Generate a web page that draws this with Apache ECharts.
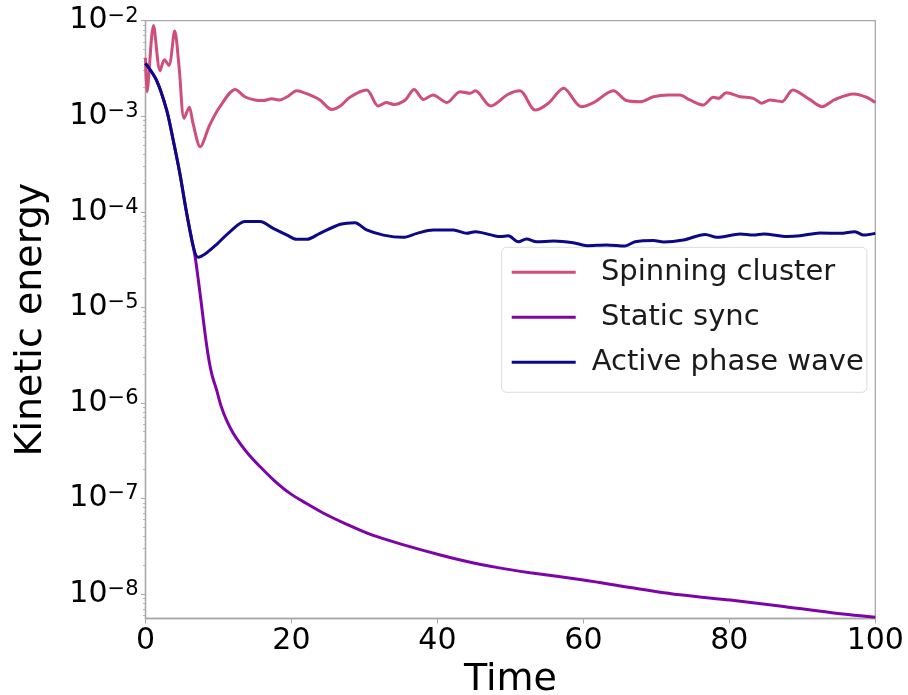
<!DOCTYPE html>
<html><head><meta charset="utf-8">
<script src="https://cdn.jsdelivr.net/npm/echarts@6/dist/echarts.min.js"></script>
<style>html,body{margin:0;padding:0;background:#fff}#c{width:908px;height:695px}</style>
</head><body><div id="c"></div>
<script>
// ---- data ----
const spinT = [0,0.2,1.1,2.0,2.6,3.2,4.0,4.6,5.3,6.0,6.5,7.5,8.8,10.2,12.3,13.6,15.0,16.1,17.3,18.4,19.6,20.7,22.5,23.9,25.5,26.7,28.0,30.3,31.9,33.0,34.0,35.6,36.8,38.1,39.4,41.3,43.1,44.5,45.2,47.3,49.7,51.3,53.4,55.2,57.3,59.7,61.4,64.1,65.9,67.8,69.6,71.6,73.2,74.6,76.4,77.8,78.5,79.6,81.5,83.3,84.4,85.6,87.2,88.7,91.0,92.7,94.5,97.0,98.8,100];
const spinE = [4.1e-3,1.8e-3,8.9e-3,3.0e-3,3.9e-3,3.4e-3,7.8e-3,3.3e-3,9.5e-4,1.24e-3,8.5e-4,4.8e-4,8.1e-4,1.26e-3,1.91e-3,1.60e-3,1.48e-3,1.46e-3,1.52e-3,1.48e-3,1.63e-3,1.85e-3,1.67e-3,1.48e-3,1.18e-3,1.28e-3,1.58e-3,1.88e-3,1.28e-3,1.39e-3,1.33e-3,1.48e-3,1.91e-3,1.50e-3,1.67e-3,1.39e-3,1.81e-3,1.74e-3,1.85e-3,1.28e-3,1.70e-3,1.85e-3,1.16e-3,1.37e-3,1.96e-3,1.26e-3,1.39e-3,1.85e-3,1.46e-3,1.42e-3,1.60e-3,1.67e-3,1.67e-3,1.48e-3,1.31e-3,1.58e-3,1.54e-3,1.76e-3,1.60e-3,1.54e-3,1.37e-3,1.48e-3,1.42e-3,1.88e-3,1.50e-3,1.26e-3,1.50e-3,1.71e-3,1.58e-3,1.39e-3];

const syncT = [0,1.5,2.9,3.8,4.7,5.65,6.55,6.8,7.25,7.7,8.15,8.6,9.1,9.75,10.35,11.1,12.0,12.95,14.2,15.7,17.6,19.8,22.0,24.4,27.5,31.2,35.5,40.4,43.6,48.1,52.7,60.0,66.4,73.2,80.1,86.9,93.8,100];
const syncE = [3.58e-3,2.39e-3,1.16e-3,5.6e-4,2.53e-4,9.6e-5,4.3e-5,3.4e-5,1.9e-5,1.02e-5,5.4e-6,3.1e-6,1.98e-6,1.36e-6,9.3e-7,6.6e-7,4.84e-7,3.78e-7,2.85e-7,2.15e-7,1.55e-7,1.13e-7,8.9e-8,7.0e-8,5.4e-8,4.1e-8,3.25e-8,2.56e-8,2.23e-8,1.9e-8,1.67e-8,1.4e-8,1.17e-8,9.8e-9,8.65e-9,7.5e-9,6.4e-9,5.7e-9];

const waveT = [0,1.5,2.9,3.8,4.7,5.65,6.55,7.2,8.4,9.8,11.6,13.6,15.7,17.5,19.4,20.7,22.1,23.9,26.7,28.7,30.3,32.6,35.3,37.2,39.4,42.2,44.0,45.2,48.6,49.7,51.1,52.2,53.6,55.9,58.6,60.5,63.2,65.7,67.1,69.6,71.0,73.7,76.7,78.3,81.5,83.3,84.7,87.9,89.7,92.4,95.2,97.2,98.4,100];
const waveE = [3.58e-3,2.39e-3,1.16e-3,5.6e-4,2.53e-4,9.6e-5,4.3e-5,3.34e-5,3.73e-5,4.6e-5,6.2e-5,7.9e-5,7.9e-5,6.7e-5,5.7e-5,5.15e-5,5.15e-5,5.95e-5,7.4e-5,7.7e-5,6.45e-5,5.7e-5,5.4e-5,5.95e-5,6.45e-5,6.45e-5,5.95e-5,6.2e-5,5.5e-5,5.6e-5,4.86e-5,5.2e-5,4.86e-5,4.94e-5,4.75e-5,4.42e-5,4.5e-5,4.39e-5,4.86e-5,5.0e-5,4.83e-5,5.07e-5,5.8e-5,5.4e-5,5.86e-5,5.7e-5,5.86e-5,5.5e-5,5.6e-5,6.0e-5,5.95e-5,6.2e-5,5.7e-5,5.95e-5];

const seriesNames = [' Spinning cluster', ' Static sync', 'Active phase wave'];
const seriesColors = ['#cf4e7c', '#7e03a8', '#0d0887'];
const xTicks = [0, 20, 40, 60, 80, 100];
const yTicks = [1e-8, 1e-7, 1e-6, 1e-5, 1e-4, 1e-3, 1e-2];
const yMin = 5.54e-9, yMax = 1e-2;

// minor log ticks (2..9 x 10^n)
const yMinor = [];
for (let n = -9; n <= -3; n++) for (let k = 2; k <= 9; k++) {
  const v = k * Math.pow(10, n);
  if (v >= yMin && v <= yMax) yMinor.push(v);
}

const FONT = 'DejaVu Sans';
const pair = (t, e) => t.map((x, i) => [x, e[i]]);
const mk = (i, t, e, extra) => Object.assign({
  name: seriesNames[i], type: 'line', yAxisIndex: 0, data: pair(t, e),
  showSymbol: false, symbol: 'none', smooth: 0.3,
  lineStyle: { width: 3, color: seriesColors[i] }, itemStyle: { color: seriesColors[i] },
  z: 3 + i
}, extra || {});

const chart = echarts.init(document.getElementById('c'), null, { renderer: 'canvas' });
chart.setOption({
  animation: false,
  backgroundColor: '#fff',
  grid: { left: 145.5, right: 32.7, top: 20.7, bottom: 76.5, containLabel: false, outerBoundsMode: 'none',
          show: true, borderColor: '#a8a8a8', borderWidth: 1.3, backgroundColor: 'transparent' },
  legend: {
    orient: 'vertical', left: 501.7, top: 247.3,
    padding: [9, 3, 14, 10], itemGap: 13, itemWidth: 64, itemHeight: 3, icon: 'rect',
    backgroundColor: 'rgba(255,255,255,0.85)', borderColor: '#dcdcdc', borderWidth: 1, borderRadius: 5,
    textStyle: { fontFamily: FONT, fontSize: 29, lineHeight: 32, color: '#1a1a1a', padding: [0, 0, 0, 11] },
    data: seriesNames
  },
  xAxis: {
    type: 'value', min: 0, max: 100, interval: 20,
    name: 'Time', nameLocation: 'middle', nameGap: 28,
    nameTextStyle: { fontFamily: FONT, fontSize: 38, color: '#000' },
    axisLine: { lineStyle: { color: '#a8a8a8', width: 1.3 } },
    axisTick: { show: true, length: 5, lineStyle: { color: '#a8a8a8', width: 1 } },
    axisLabel: { fontFamily: FONT, fontSize: 30, color: '#000', margin: 8, customValues: xTicks },
    splitLine: { show: false }
  },
  yAxis: [{
    type: 'log', logBase: 10, min: yMin, max: yMax,
    name: 'Kinetic energy', nameLocation: 'middle', nameGap: 95, nameRotate: 90,
    nameTextStyle: { fontFamily: FONT, fontSize: 38, color: '#000' },
    axisLine: { show: true, lineStyle: { color: '#a8a8a8', width: 1.3 } },
    axisTick: { show: true, length: 4.5, customValues: yTicks, lineStyle: { color: '#a8a8a8', width: 1 } },
    axisLabel: {
      show: true, margin: 7, customValues: yTicks,
      formatter: v => '{b|10}{s|\u2212' + Math.abs(Math.round(Math.log10(v))) + '}',
      rich: {
        b: { fontFamily: FONT, fontSize: 30, lineHeight: 30, color: '#000' },
        s: { fontFamily: FONT, fontSize: 21, lineHeight: 21, color: '#000', verticalAlign: 'top' }
      }
    },
    splitLine: { show: false }
  }, {
    type: 'log', logBase: 10, min: yMin, max: yMax, position: 'left',
    axisLine: { show: false },
    axisTick: { show: true, length: 2.5, customValues: yMinor, lineStyle: { color: '#a8a8a8', width: 0.8 } },
    axisLabel: { show: false },
    splitLine: { show: false }
  }],
  series: [mk(0, spinT, spinE), mk(1, syncT, syncE), mk(2, waveT, waveE)]
});
</script>
</body></html>
